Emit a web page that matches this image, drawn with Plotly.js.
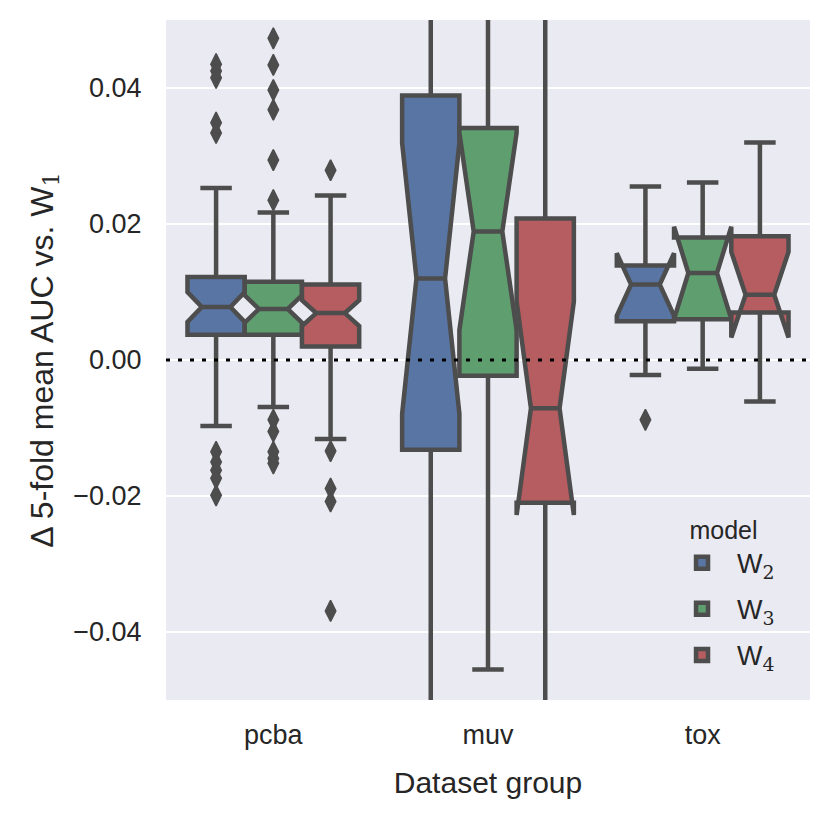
<!DOCTYPE html>
<html>
<head>
<meta charset="utf-8">
<script src="https://cdn.plot.ly/plotly-3.0.1.min.js"></script>
<style>
  html, body { margin: 0; padding: 0; background: #fff; }
  #chart { width: 831px; height: 816px; }
</style>
</head>
<body>
<div id="chart"></div>
<script>
// Values (Delta AUC vs. W1)
const groups = ['pcba', 'muv', 'tox'];
const modelNames = ['W2', 'W3', 'W4'];

// W2
const w2Lower = [-0.0097, -0.080, -0.0022];
const w2Q1 = [0.0037, -0.0132, 0.0057];
const w2Median = [0.0078, 0.0120, 0.0111];
const w2Q3 = [0.0122, 0.0389, 0.0139];
const w2Upper = [0.0253, 0.075, 0.0255];
const w2Notch = [0.0022, 0.0199, 0.0046];
const w2Outliers = [
  [0.0435, 0.0425, 0.0415, 0.0349, 0.0334, -0.0135, -0.0150, -0.0162, -0.0174, -0.0199],
  [],
  [-0.0088]
];

// W3
const w3Lower = [-0.0069, -0.0455, -0.0013];
const w3Q1 = [0.0037, -0.0023, 0.0060];
const w3Median = [0.0075, 0.0189, 0.0128];
const w3Q3 = [0.0115, 0.0341, 0.0180];
const w3Upper = [0.0217, 0.070, 0.0261];
const w3Notch = [0.0020, 0.0145, 0.0068];
const w3Outliers = [
  [0.0473, 0.0434, 0.0397, 0.0368, 0.0294, 0.0235, -0.0088, -0.0105, -0.0135, -0.0145, -0.0152],
  [],
  []
];

// W4
const w4Lower = [-0.0116, -0.085, -0.0061];
const w4Q1 = [0.0020, -0.0210, 0.0070];
const w4Median = [0.0069, -0.0071, 0.0096];
const w4Q3 = [0.0111, 0.0208, 0.0182];
const w4Upper = [0.0242, 0.060, 0.0320];
const w4Notch = [0.0019, 0.0157, 0.0063];
const w4Outliers = [
  [0.0279, -0.0134, -0.0189, -0.0208, -0.0369],
  [],
  []
];

const yTicks = [-0.04, -0.02, 0, 0.02, 0.04];

const boxColors = ['#5875a4', '#5f9e6e', '#b55d60'];
const lineGray = '#4d4d4d';
const textColor = '#262626';
const fontFamily = '"Liberation Sans", Arial, sans-serif';
const boxWidth = 0.8 / 3;

// W + serif subscript, like matplotlib mathtext
function subLabel(name) {
  return name[0] + '<sub><span style="font-family:\'DejaVu Serif\'">' + name.slice(1) + '</span></sub>';
}

function createBoxTrace(i, stats) {
  const offset = (i - 1) * boxWidth;
  return {
    type: 'box',
    name: subLabel(modelNames[i]),
    legendgroup: modelNames[i],
    x: groups.map((g, k) => k + offset),
    lowerfence: stats.lower,
    q1: stats.q1,
    median: stats.median,
    q3: stats.q3,
    upperfence: stats.upper,
    notchspan: stats.notch,
    notched: true,
    notchwidth: 0.25,
    width: boxWidth,
    whiskerwidth: 0.55,
    boxpoints: false,
    fillcolor: boxColors[i],
    line: { color: lineGray, width: 4.5 },
    hoverinfo: 'y'
  };
}

function createOutlierTrace(i, outliers) {
  const offset = (i - 1) * boxWidth;
  const xs = [];
  const ys = [];
  outliers.forEach((vals, k) => {
    vals.forEach(v => { xs.push(k + offset); ys.push(v); });
  });
  return {
    type: 'scatter',
    mode: 'markers',
    x: xs,
    y: ys,
    showlegend: false,
    legendgroup: modelNames[i],
    marker: { symbol: 'diamond-tall', size: 15, color: lineGray, line: { color: lineGray, width: 1.5 } },
    hoverinfo: 'y'
  };
}

const stats = [
  { lower: w2Lower, q1: w2Q1, median: w2Median, q3: w2Q3, upper: w2Upper, notch: w2Notch },
  { lower: w3Lower, q1: w3Q1, median: w3Median, q3: w3Q3, upper: w3Upper, notch: w3Notch },
  { lower: w4Lower, q1: w4Q1, median: w4Median, q3: w4Q3, upper: w4Upper, notch: w4Notch }
];
const outlierSets = [w2Outliers, w3Outliers, w4Outliers];

const traces = [
  ...stats.map((s, i) => createBoxTrace(i, s)),
  ...outlierSets.map((o, i) => createOutlierTrace(i, o))
];

const layout = {
  width: 831,
  height: 816,
  font: { family: fontFamily, size: 27, color: textColor },
  paper_bgcolor: '#ffffff',
  plot_bgcolor: '#eaeaf2',
  margin: { t: 20, b: 116, l: 166, r: 21 },
  showlegend: true,
  legend: {
    x: 0.778, y: 0.285, xanchor: 'left', yanchor: 'top',
    bgcolor: 'rgba(0,0,0,0)',
    itemwidth: 60,
    traceorder: 'grouped',
    tracegroupgap: 8,
    title: { text: 'model', side: 'top center', font: { size: 25, color: textColor } },
    font: { size: 27, color: textColor }
  },
  xaxis: {
    range: [-0.5, 2.5],
    tickvals: groups.map((g, k) => k),
    ticktext: groups,
    showgrid: false,
    zeroline: false,
    showline: false,
    ticks: 'outside',
    ticklen: 11,
    tickcolor: 'rgba(0,0,0,0)',
    tickfont: { size: 27, color: textColor },
    title: { text: 'Dataset group', font: { size: 30, color: textColor }, standoff: 22 }
  },
  yaxis: {
    range: [-0.05, 0.05],
    tickvals: yTicks,
    tickformat: '.2f',
    gridcolor: '#ffffff',
    gridwidth: 2.5,
    zeroline: false,
    showline: false,
    ticks: 'outside',
    ticklen: 18,
    tickcolor: 'rgba(0,0,0,0)',
    tickfont: { size: 27, color: textColor },
    title: { text: '\u0394 5-fold mean AUC vs. ' + subLabel('W1'), font: { size: 32, color: textColor }, standoff: 10 }
  },
  shapes: [{
    type: 'line', xref: 'paper', yref: 'y',
    x0: 0, x1: 1, y0: 0, y1: 0,
    layer: 'above',
    line: { color: '#000000', width: 3, dash: '4px,8px' }
  }]
};

Plotly.newPlot('chart', traces, layout, { displayModeBar: false, staticPlot: true });
</script>
</body>
</html>
